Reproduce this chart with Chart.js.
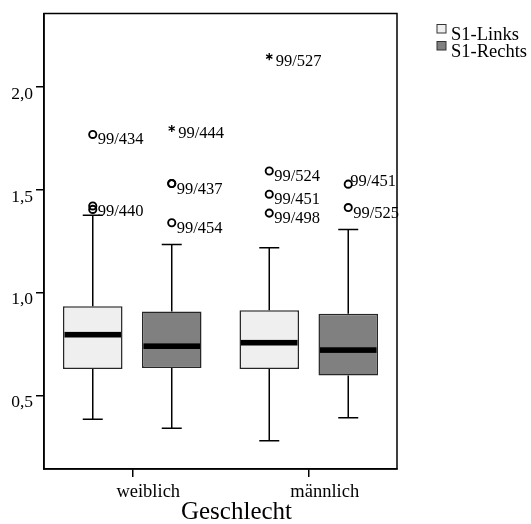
<!DOCTYPE html>
<html>
<head>
<meta charset="utf-8">
<script src="https://cdn.jsdelivr.net/npm/chart.js@4.4.1/dist/chart.umd.min.js"></script>
<style>
  body { margin: 0; background: #fff; }
  #wrap { width: 531px; height: 524px; }
</style>
</head>
<body>
<div id="wrap"><canvas id="boxChart"></canvas></div>
<script>
const categories = ["weiblich", "männlich"];
const seriesNames = ["S1-Links", "S1-Rechts"];
const axisTitle = "Geschlecht";
const yTicks = [0.5, 1.0, 1.5, 2.0];

// S1-Links, one value per category
const linksLow = [0.383, 0.278];
const linksQ1 = [0.628, 0.628];
const linksMedian = [0.795, 0.756];
const linksQ3 = [0.933, 0.914];
const linksHigh = [1.377, 1.218];
const linksOutliers = [[1.770, 1.422, 1.405], [2.149, 1.592, 1.479, 1.387]];
const linksOutlierIds = [["99/434", "99/440", ""], ["99/527", "99/524", "99/451", "99/498"]];

// S1-Rechts
const rechtsLow = [0.340, 0.390];
const rechtsQ1 = [0.633, 0.596];
const rechtsMedian = [0.739, 0.720];
const rechtsQ3 = [0.908, 0.897];
const rechtsHigh = [1.234, 1.307];
const rechtsOutliers = [[1.799, 1.531, 1.531, 1.340], [1.528, 1.414]];
const rechtsOutlierIds = [["99/444", "99/437", "", "99/454"], ["99/451", "99/525"]];

const stats = [
    { low: linksLow, median: linksMedian, high: linksHigh, q1: linksQ1, q3: linksQ3, out: linksOutliers, ids: linksOutlierIds },
    { low: rechtsLow, median: rechtsMedian, high: rechtsHigh, q1: rechtsQ1, q3: rechtsQ3, out: rechtsOutliers, ids: rechtsOutlierIds }
];
const fills = ["#efefef", "#808080"];
const serif = '"Liberation Serif", "Times New Roman", serif';

Chart.defaults.font.family = serif;
Chart.defaults.color = "#000";

// whiskers, medians, outliers (SPSS style)
const boxPlotPlugin = {
    id: "boxPlot",
    afterDatasetsDraw(chart, args, opts) {
        const ctx = chart.ctx;
        const y = chart.scales.y;
        const area = chart.chartArea;
        ctx.save();
        ctx.strokeStyle = "#000";
        ctx.fillStyle = "#000";
        chart.data.datasets.forEach((ds, di) => {
            const s = stats[di];
            chart.getDatasetMeta(di).data.forEach((bar, i) => {
                const cx = bar.x;
                const half = bar.width / 2;
                const top = bar.y, bottom = bar.base;
                const hi = y.getPixelForValue(s.high[i]);
                const lo = y.getPixelForValue(s.low[i]);

                ctx.lineWidth = 1.5;
                ctx.beginPath();
                ctx.moveTo(cx, top); ctx.lineTo(cx, hi);
                ctx.moveTo(cx - 10, hi); ctx.lineTo(cx + 10, hi);
                ctx.moveTo(cx, bottom); ctx.lineTo(cx, lo);
                ctx.moveTo(cx - 10, lo); ctx.lineTo(cx + 10, lo);
                ctx.stroke();

                const med = y.getPixelForValue(s.median[i]);
                ctx.fillRect(cx - half + 1.5, med - 2.8, bar.width - 3, 5.6);

                const iqr = s.q3[i] - s.q1[i];
                ctx.font = "16.5px " + serif;
                s.out[i].forEach((v, j) => {
                    const py = y.getPixelForValue(v);
                    const extreme = v > s.q3[i] + 3 * iqr || v < s.q1[i] - 3 * iqr;
                    ctx.lineWidth = extreme ? 1.3 : 1.9;
                    ctx.beginPath();
                    if (extreme) {
                        for (let k = 0; k < 3; k++) {
                            const a = Math.PI / 2 + k * Math.PI / 3;
                            ctx.moveTo(cx - 3.6 * Math.cos(a), py - 3.6 * Math.sin(a));
                            ctx.lineTo(cx + 3.6 * Math.cos(a), py + 3.6 * Math.sin(a));
                        }
                    } else {
                        ctx.arc(cx, py, 3.6, 0, Math.PI * 2);
                    }
                    ctx.stroke();

                    const id = s.ids[i][j];
                    if (!id) return;
                    const w = ctx.measureText(id).width;
                    let tx = cx + (extreme ? 6.5 : 5);
                    let ty = py + (extreme ? 9 : 10);
                    if ((opts.raised || []).includes(di + "-" + i + "-" + j)) {
                        tx = Math.min(tx, area.right - w - 1);
                        ty = py + 2;
                    }
                    ctx.fillText(id, tx, ty);
                });
            });
        });
        ctx.restore();
    },
    afterDraw(chart) {
        const ctx = chart.ctx;
        const area = chart.chartArea;
        ctx.save();
        // frame around the plot
        ctx.strokeStyle = "#000";
        ctx.lineWidth = 1.5;
        ctx.strokeRect(area.left, area.top, area.right - area.left, area.bottom - area.top);

        // axis title, set a little right of centre as in SPSS output
        ctx.fillStyle = "#000";
        ctx.font = "25px " + serif;
        ctx.textAlign = "center";
        ctx.fillText(axisTitle, (area.left + area.right) / 2 + 16, area.bottom + 50);

        // legend
        const lx = area.right + 40;
        ctx.textAlign = "left";
        ctx.font = "18.5px " + serif;
        seriesNames.forEach((name, k) => {
            const base = area.top + 26 + k * 17;
            ctx.fillStyle = fills[k];
            ctx.fillRect(lx, base - 15, 9, 8.5);
            ctx.strokeStyle = "#333";
            ctx.lineWidth = 1;
            ctx.strokeRect(lx, base - 15, 9, 8.5);
            ctx.fillStyle = "#000";
            ctx.fillText(name, lx + 14, base);
        });
        ctx.restore();
    }
};

const ctx = document.getElementById("boxChart").getContext("2d");
new Chart(ctx, {
    type: "bar",
    data: {
        labels: categories,
        datasets: stats.map((s, k) => ({
            label: seriesNames[k],
            data: s.q1.map((q, i) => [q, s.q3[i]]),
            backgroundColor: fills[k],
            borderColor: "#262626",
            borderWidth: 1.5,
            borderSkipped: false,
            categoryPercentage: 0.895,
            barPercentage: 0.754
        }))
    },
    options: {
        responsive: true,
        maintainAspectRatio: false,
        animation: false,
        layout: { padding: { top: 12, right: 134, left: 0, bottom: 0 } },
        plugins: {
            legend: { display: false },
            tooltip: { enabled: false },
            boxPlot: { raised: ["1-1-0"] }
        },
        scales: {
            x: {
                offset: true,
                afterFit: s => { s.height = 55; },
                grid: { offset: false, drawOnChartArea: false, tickLength: 8, color: "#000", lineWidth: 1.5 },
                border: { display: true, color: "#000", width: 1.5 },
                ticks: { font: { size: 18.5 }, color: "#000", padding: 4, labelOffset: 16, maxRotation: 0 }
            },
            y: {
                min: 0.141,
                max: 2.359,
                afterFit: s => { s.width = 44; },
                afterBuildTicks: s => { s.ticks = yTicks.map(v => ({ value: v })); },
                grid: { drawOnChartArea: false, tickLength: 8, color: "#000", lineWidth: 1.5 },
                border: { display: true, color: "#000", width: 1.5 },
                ticks: {
                    font: { size: 17.5 },
                    color: "#000",
                    padding: 3,
                    labelOffset: 7,
                    callback: v => v.toFixed(1).replace(".", ",")
                }
            }
        }
    },
    plugins: [boxPlotPlugin]
});
</script>
</body>
</html>
